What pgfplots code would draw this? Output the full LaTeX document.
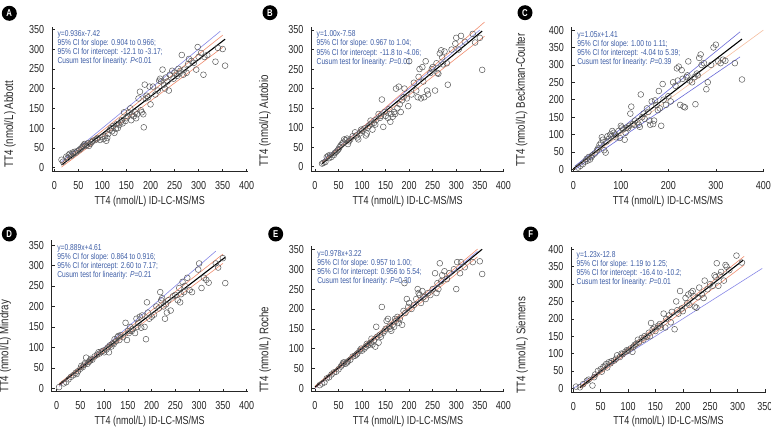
\documentclass[border=0pt]{standalone}
\usepackage{fontspec}
\setmainfont[FakeStretch=0.78]{Liberation Sans}
\usepackage{pgfplots}
\pgfplotsset{compat=1.18}
\definecolor{annot}{RGB}{60,92,165}
\definecolor{idblue}{RGB}{135,135,230}
\definecolor{ciorange}{RGB}{240,140,110}
\definecolor{cipurple}{RGB}{105,105,215}
\definecolor{idorange}{RGB}{245,190,160}
\pgfplotsset{
  panel/.style={
    scale only axis, axis lines*=left,
    axis line style={-, line width=0.6bp, draw=black!85},
    tick align=inside, major tick length=3bp,
    tick style={line width=0.5bp, draw=black!85},
    /pgf/number format/assume math mode=true,
    ticklabel style={font=\fontsize{11.6}{12}\selectfont, text=black!85, inner sep=0pt},
    xticklabel style={anchor=north, yshift=-10bp},
    yticklabel style={anchor=east, xshift=-7.5bp},
    xlabel style={font=\fontsize{11.6}{12}\selectfont, text=black!85, inner sep=0pt},
    ylabel style={font=\fontsize{12.5}{13}\selectfont, text=black!85, inner sep=0pt},
    xlabel style={at={(axis description cs:0.5,0)}, anchor=center, yshift=-30bp},
    clip=false,
  },
  dots/.style={only marks, mark=o, mark size=2.9bp, mark options={line width=0.5bp, draw=black!65}},
  reg/.style={no marks, line width=1.1bp, black},
  ident/.style={no marks, line width=0.6bp, idblue},
  ci/.style={no marks, line width=0.6bp, ciorange},
}
\newcommand{\annot}[4]{\node[anchor=north west, align=left, font=\fontsize{8.6}{9.1}\selectfont, text=annot, inner sep=0pt, xshift=5.5bp, yshift=-4bp] at (rel axis cs:0,1) {#1\\95\% CI for slope: #2;\\95\% CI for intercept: #3;\\Cusum test for linearity: #4};}
\newcommand{\panellabel}[3]{\node[circle, fill=black, inner sep=0pt, minimum size=15bp, text=white, font=\bfseries\fontsize{10}{10}\selectfont] at (#1bp,-#2bp) {#3};}
\begin{document}
\begin{tikzpicture}
\path[use as bounding box] (0,0) rectangle (771bp,-427bp);
% ---------------- A ----------------
\begin{axis}[panel, at={(51.9bp,-171.6bp)}, anchor=south west,
  width=195.8bp, height=145.1bp, xmin=-5, xmax=402, ymin=-10, ymax=357,
  xtick={0,50,...,400}, ytick={0,50,...,350},
  xlabel={TT4 (nmol/L) ID-LC-MS/MS}, ylabel={TT4 (nmol/L) Abbott},
  ylabel style={at={(axis description cs:-0.2145,0.028)}, anchor=west}]
\addplot[dots] coordinates {(15,20) (18,15) (25,28) (28,25) (30,32) (32,35) (35,30) (38,38) (40,35) (42,40) (45,38) (48,42) (52,45) (55,48) (58,52) (60,55) (62,58) (63,60) (65,55) (68,58) (70,62) (72,55) (75,60) (78,65) (80,68) (85,70) (88,72) (90,75) (95,70) (100,78) (102,72) (105,80) (108,68) (110,75) (112,85) (115,95) (118,100) (120,92) (122,105) (125,88) (128,98) (130,110) (132,100) (135,108) (138,115) (140,120) (142,112) (145,140) (148,118) (150,125) (152,130) (155,140) (158,150) (160,120) (162,135) (165,130) (168,140) (170,125) (172,135) (175,175) (178,192) (180,145) (182,140) (185,135) (186,102) (188,210) (190,175) (192,182) (195,178) (198,205) (200,160) (205,205) (210,185) (215,195) (218,220) (220,225) (222,218) (225,248) (228,210) (230,200) (232,228) (235,218) (238,195) (240,235) (245,245) (248,225) (250,240) (255,232) (258,250) (260,238) (262,245) (265,285) (268,235) (270,248) (275,240) (278,262) (280,275) (285,270) (290,265) (295,248) (298,305) (300,280) (305,290) (310,235) (312,280) (318,285) (335,268) (340,303) (350,300) (355,258)};
\addplot[ident] coordinates {(15,15) (345,345)};
\addplot[ci] coordinates {(15,11.3) (350,335)};
\addplot[ci] coordinates {(15,1.5) (350,304.3)};
\addplot[reg] coordinates {(15,6.6) (355,324.9)};
\annot{y=0.936x-7.42}{0.904 to 0.966}{-12.1 to -3.17}{\textit{P}<0.01}
\end{axis}
% ---------------- B ----------------
\begin{axis}[panel, at={(311bp,-171.7bp)}, anchor=south west,
  width=193.3bp, height=145bp, xmin=-8.5, xmax=402, ymin=-12.8, ymax=358.5,
  xtick={0,50,...,400}, ytick={0,50,...,350},
  xlabel={TT4 (nmol/L) ID-LC-MS/MS}, ylabel={TT4 (nmol/L) Autobio},
  ylabel style={at={(axis description cs:-0.238,0.034)}, anchor=west}]
\addplot[dots] coordinates {(15,8) (18,10) (22,12) (25,25) (28,28) (30,22) (32,30) (35,25) (40,30) (42,35) (45,38) (48,42) (50,45) (52,50) (55,55) (58,60) (60,62) (62,70) (65,68) (68,72) (70,58) (72,65) (75,70) (80,78) (85,88) (88,80) (90,75) (92,70) (95,85) (98,95) (100,92) (105,98) (108,80) (110,85) (112,100) (115,105) (118,118) (120,110) (122,95) (125,112) (128,108) (130,120) (135,135) (138,125) (140,130) (142,172) (145,102) (148,140) (150,130) (155,125) (158,148) (160,115) (162,135) (165,128) (168,140) (170,135) (172,200) (175,150) (178,205) (180,160) (182,140) (185,170) (188,178) (190,200) (195,175) (198,155) (200,270) (205,185) (210,215) (215,195) (218,178) (220,230) (222,250) (225,175) (228,255) (230,218) (232,178) (235,270) (238,195) (240,185) (245,240) (248,250) (250,255) (255,195) (258,265) (260,240) (262,238) (265,290) (268,298) (270,280) (272,262) (275,295) (280,265) (282,210) (290,300) (298,315) (300,330) (305,300) (310,335) (318,320) (335,340) (340,318) (350,330) (355,248)};
\addplot[ident] coordinates {(15,15) (350,350)};
\addplot[ci] coordinates {(15,11.5) (360,370.3)};
\addplot[ci] coordinates {(15,10) (360,334)};
\addplot[reg] coordinates {(15,7.4) (355,347.4)};
\annot{y=1.00x-7.58}{0.967 to 1.04}{-11.8 to -4.06}{\textit{P}=0.01}
\end{axis}
% ---------------- C ----------------
\begin{axis}[panel, at={(571.7bp,-171.7bp)}, anchor=south west,
  width=192.6bp, height=144.4bp, xmin=-3.4, xmax=402, ymin=-6.9, ymax=408,
  xtick={0,100,...,400}, ytick={0,50,...,400},
  xlabel={TT4 (nmol/L) ID-LC-MS/MS}, ylabel={TT4 (nmol/L) Beckman-Coulter},
  ylabel style={at={(axis description cs:-0.26,0.033)}, anchor=west}]
\addplot[dots] coordinates {(10,5) (15,10) (20,15) (25,22) (28,30) (30,25) (32,35) (35,28) (38,35) (40,40) (45,45) (50,55) (52,60) (55,70) (58,75) (60,92) (62,85) (65,55) (68,48) (70,80) (72,95) (75,88) (78,100) (80,95) (82,110) (85,105) (88,100) (90,92) (95,110) (98,90) (100,125) (102,120) (105,115) (108,85) (110,105) (112,120) (115,118) (118,125) (120,160) (122,180) (125,130) (128,128) (130,140) (135,135) (138,128) (140,122) (142,215) (145,150) (148,160) (150,145) (155,175) (158,165) (160,140) (162,128) (165,195) (168,130) (170,140) (172,198) (175,185) (178,170) (180,225) (182,175) (185,125) (188,245) (190,200) (195,185) (200,210) (205,195) (210,250) (215,240) (218,290) (220,255) (222,295) (225,185) (228,285) (230,260) (232,180) (235,178) (238,265) (240,270) (242,310) (245,255) (250,250) (255,265) (257,187) (260,275) (262,270) (265,320) (268,330) (270,300) (275,305) (280,230) (283,250) (290,300) (295,350) (300,358) (305,310) (310,305) (315,315) (320,312) (340,305) (355,258)};
\addplot[no marks, line width=0.6bp, idorange] coordinates {(0,0) (400,400)};
\addplot[no marks, line width=0.6bp, cipurple] coordinates {(3,8.7) (351,395)};
\addplot[no marks, line width=0.6bp, cipurple] coordinates {(5,1.6) (351,323)};
\addplot[reg] coordinates {(0,1.4) (355,374.2)};
\annot{y=1.05x+1.41}{1.00 to 1.11}{-4.04 to 5.39}{\textit{P}=0.39}
\end{axis}
% ---------------- D ----------------
\begin{axis}[panel, at={(51.7bp,-391.6bp)}, anchor=south west,
  width=195.9bp, height=151.5bp, xmin=-10.5, xmax=402, ymin=-8, ymax=362,
  xtick={0,50,...,400}, ytick={0,50,...,350},
  xlabel={TT4 (nmol/L) ID-LC-MS/MS}, ylabel={TT4 (nmol/L) Mindray},
  ylabel style={at={(axis description cs:-0.238,-0.01)}, anchor=west}]
\addplot[dots] coordinates {(5,3) (15,12) (20,15) (25,22) (30,28) (35,32) (40,38) (42,35) (45,42) (50,48) (52,55) (55,52) (58,58) (60,62) (62,75) (65,60) (68,65) (70,68) (72,72) (75,70) (80,78) (85,82) (88,88) (90,85) (95,90) (98,92) (100,88) (105,95) (108,100) (110,88) (112,105) (115,102) (118,110) (120,108) (122,120) (125,115) (128,125) (130,128) (132,118) (135,130) (140,125) (145,160) (148,118) (150,140) (152,135) (155,150) (158,140) (160,145) (165,135) (168,170) (170,150) (172,160) (175,175) (178,148) (180,178) (185,150) (188,120) (190,210) (192,185) (195,170) (200,175) (205,180) (210,200) (215,195) (218,235) (220,215) (222,220) (225,200) (228,170) (230,205) (232,185) (235,215) (240,190) (245,225) (250,228) (255,215) (258,245) (260,210) (262,230) (265,260) (268,235) (270,250) (275,270) (280,240) (285,235) (298,290) (300,305) (305,245) (310,270) (315,265) (320,258) (335,305) (340,295) (350,318) (355,257)};
\addplot[ident] coordinates {(5,5) (335,335)};
\addplot[ci] coordinates {(5,11.8) (350,327.8)};
\addplot[ci] coordinates {(5,6.9) (350,305)};
\addplot[reg] coordinates {(5,9.1) (355,320.2)};
\annot{y=0.889x+4.61}{0.864 to 0.916}{2.60 to 7.17}{\textit{P}=0.21}
\end{axis}
% ---------------- E ----------------
\begin{axis}[panel, at={(311.7bp,-391.7bp)}, anchor=south west,
  width=192.6bp, height=145.5bp, xmin=-7, xmax=402, ymin=-8.5, ymax=358,
  xtick={0,50,...,400}, ytick={0,50,...,350},
  xlabel={TT4 (nmol/L) ID-LC-MS/MS}, ylabel={TT4 (nmol/L) Roche},
  ylabel style={at={(axis description cs:-0.242,-0.01)}, anchor=west}]
\addplot[dots] coordinates {(10,8) (15,12) (20,15) (25,25) (30,28) (35,35) (40,40) (45,42) (50,48) (55,55) (58,60) (60,65) (62,65) (65,62) (68,65) (70,68) (75,72) (80,80) (85,82) (88,85) (90,88) (95,95) (98,100) (100,95) (105,100) (108,105) (110,112) (112,108) (115,110) (118,115) (120,125) (122,110) (125,120) (128,105) (130,155) (132,130) (135,115) (138,135) (140,130) (142,205) (145,140) (148,145) (150,150) (152,170) (155,175) (158,155) (160,150) (162,145) (165,160) (168,155) (170,175) (172,170) (175,180) (178,165) (180,175) (185,160) (188,195) (190,265) (192,190) (195,225) (198,205) (200,215) (205,200) (210,210) (215,225) (218,250) (220,240) (222,235) (225,215) (228,245) (230,230) (235,225) (240,240) (245,235) (250,250) (255,290) (258,240) (260,265) (262,250) (265,315) (268,270) (270,285) (275,295) (280,275) (285,290) (295,300) (300,250) (302,318) (308,290) (310,318) (318,305) (335,318) (350,320) (355,288)};
\addplot[ident] coordinates {(0,0) (345,345)};
\addplot[ci] coordinates {(0,5.5) (345,350.5)};
\addplot[ci] coordinates {(0,1) (345,331)};
\addplot[reg] coordinates {(0,3.2) (355,350.4)};
\annot{y=0.978x+3.22}{0.957 to 1.00}{0.956 to 5.54}{\textit{P}=0.30}
\end{axis}
% ---------------- F ----------------
\begin{axis}[panel, at={(571bp,-391.8bp)}, anchor=south west,
  width=195bp, height=144.9bp, xmin=-4.2, xmax=352, ymin=-10, ymax=407,
  xtick={0,50,...,350}, ytick={0,50,...,400},
  xlabel={TT4 (nmol/L) ID-LC-MS/MS}, ylabel={TT4 (nmol/L) Siemens},
  ylabel style={at={(axis description cs:-0.251,-0.01)}, anchor=west}]
\addplot[dots] coordinates {(5,5) (12,3) (18,12) (25,22) (28,25) (35,8) (38,32) (40,40) (45,50) (50,55) (52,48) (55,62) (58,65) (60,70) (62,60) (65,75) (68,72) (70,78) (75,80) (78,85) (80,95) (85,90) (88,100) (90,98) (95,105) (98,110) (100,108) (105,115) (108,105) (110,120) (112,125) (115,128) (118,140) (120,132) (125,145) (128,140) (130,150) (135,148) (138,160) (140,150) (142,188) (145,170) (148,175) (150,165) (155,180) (158,185) (160,175) (165,215) (168,175) (170,200) (175,210) (178,190) (180,220) (185,170) (188,250) (190,225) (192,215) (195,280) (198,230) (200,222) (205,260) (208,245) (210,270) (212,240) (215,275) (218,280) (220,265) (222,235) (225,232) (228,262) (230,290) (235,270) (238,260) (240,310) (245,285) (250,300) (255,295) (258,325) (260,320) (262,360) (265,295) (268,325) (270,335) (275,310) (278,355) (280,350) (285,340) (298,382) (308,362)};
\addplot[ident] coordinates {(0,0) (345,345)};
\addplot[ci] coordinates {(12,4.8) (312,379.8)};
\addplot[ci] coordinates {(14,0.3) (312,354.9)};
\addplot[reg] coordinates {(12,2) (310,368.5)};
\annot{y=1.23x-12.8}{1.19 to 1.25}{-16.4 to -10.2}{\textit{P}=0.01}
\end{axis}
\panellabel{9.3}{13.3}{A}
\panellabel{270}{12.7}{B}
\panellabel{525}{12.7}{C}
\panellabel{9.3}{234}{D}
\panellabel{275.7}{234}{E}
\panellabel{530.7}{234}{F}
\end{tikzpicture}
\end{document}
